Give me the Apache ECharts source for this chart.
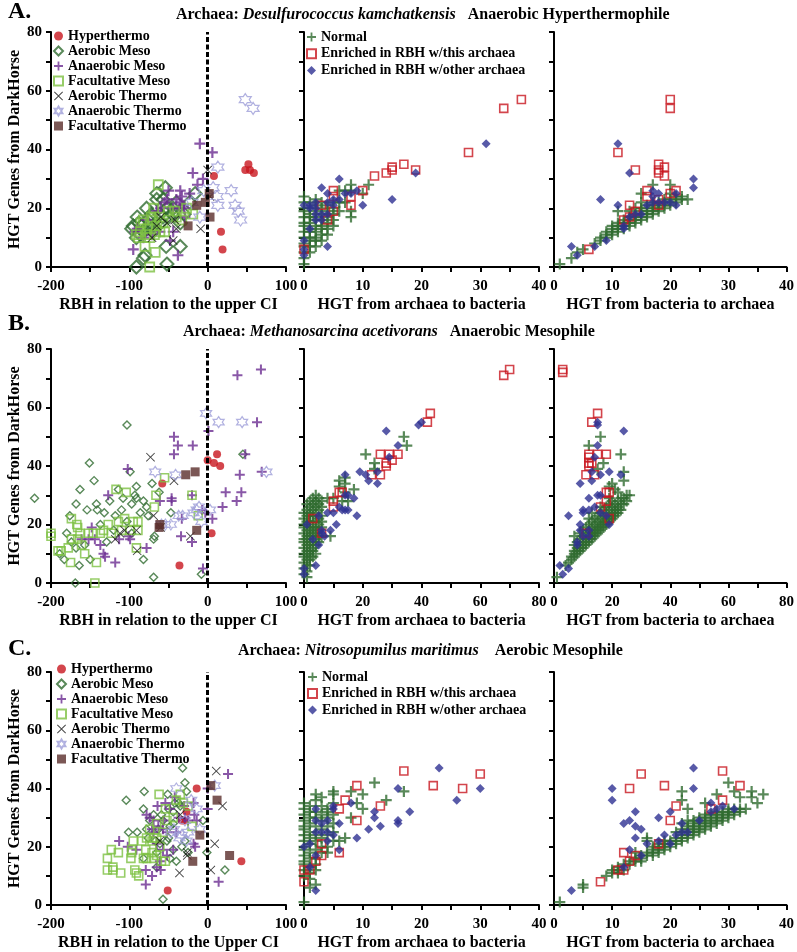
<!DOCTYPE html>
<html><head><meta charset="utf-8">
<script src="https://cdn.jsdelivr.net/npm/echarts@6/dist/echarts.min.js"></script>
<style>html,body{margin:0;padding:0;background:#fff}#c{width:797px;height:952px}</style>
</head><body><div id="c"></div>
<script>
// ---------- Panel A : Desulfurococcus kamchatkensis ----------
const A_hyper = [[8,31],[48,33],[52,35],[54,33],[59,32],[17,12],[19,6]];
const A_aeroMeso = [[-97,13],[-90,17],[-65,25],[-65,23],[-57,23],[-52,20],[-44,20],[-35,15],[-53,7],[-35,7],[-82,3],[-80,4],[-91,0],[-52,1],[-76,16],[-86,11],[-69,14],[-78,20],[-16,25],[-23,22],[-61,18],[-50,17],[-84,14],[-72,18],[-57,17],[-91,10],[-54,27],[-88,15],[-82,12],[-70,12],[-60,15],[-45,18],[-40,22],[-30,18],[-75,14],[-95,14]];
const A_anaeMeso = [[-10,42],[6,39],[-19,32],[-6,30],[-13,28],[-95,6],[-38,4],[-23,25],[-35,26],[-33,24],[-50,26],[-40,23],[-44,20],[-29,17],[-78,16],[-90,13],[-61,12],[-71,11],[-48,9],[-44,12],[-65,19],[-35,22],[-31,21],[-52,23],[-82,10],[-93,12],[-55,22],[-60,20],[-30,20],[-36,20]];
const A_facMeso = [[-63,28],[-67,5],[-74,0],[-19,18],[-61,12],[-80,7],[-86,12],[-82,16],[-72,17],[-69,20],[-50,19],[-42,19],[-78,11],[-74,10],[-65,14],[-57,15],[-91,11],[-33,16],[-40,17],[-27,20],[-85,15],[-77,13],[-70,16],[-62,17],[-55,12],[-88,10],[-68,11]];
const A_aeroTherm = [[0,33],[-9,13],[-40,13],[-44,9],[-71,10],[-52,15],[-42,16],[3,24],[-65,14],[-60,17]];
const A_anaeTherm = [[48,57],[58,54],[13,34],[30,26],[35,21],[39,19],[42,16],[12,24],[13,21],[7,27],[-10,17],[-5,26],[-20,22]];
const A_facTherm = [[2,25],[-3,22],[-14,21],[3,17],[-25,14]];

const A_mid_normal = [[0,1],[0,3],[0,5],[0,7],[0,8],[0,10],[0,12],[0,14],[0,15],[0,17],[0,19],[0,20],[0,22],[0,24],
 [1,5],[1,7],[1,9],[1,10],[1,12],[1,13],[1,15],[1,17],[1,18],[1,20],[1,22],
 [2,7],[2,9],[2,10],[2,12],[2,14],[2,16],[2,17],[2,19],[2,21],[2,23],
 [3,9],[3,11],[3,13],[3,14],[3,16],[3,18],[3,20],[3,22],
 [4,11],[4,13],[4,15],[4,17],[4,19],[4,21],
 [5,14],[5,16],[5,18],[5,20],[5,22],
 [6,19],[6,22],[6,26],[7,22],[7,26],[8,17],[8,19],[8,26],[8,28],[10,25],[11,28]];
const A_mid_this = [[37,57],[34,54],[28,39],[17,35],[15,34],[15,33],[14,32],[12,31],[19,33],[10,26],[5,26],[5,24],[8,24],[8,21],[5,19],[3,21],[4,16],[0,6]];
const A_mid_other = [[31,42],[19,32],[15,23],[6,30],[3,27],[10,21],[9,26],[7,25],[8,25],[6,23],[4,25],[5,21],[4,22],[2,22],[1,21],[0,21],[3,18],[2,16],[1,13],[0,9],[0,6],[0,4],[4,7],[2,18],[4,18],[3,16],[5,23],[1,20],[2,20]];

const A_right_normal = [[1,1],[3,3],[4,5],[5,6],[7,8],[8,9],[8,10],[9,10],[9,11],[9,12],[10,11],[10,12],[10,13],[10,14],
 [11,12],[11,13],[11,14],[11,15],[11,19],[12,13],[12,14],[12,15],[12,16],[13,14],[13,15],[13,16],[13,17],[13,19],
 [14,15],[14,16],[14,17],[14,18],[14,20],[15,16],[15,17],[15,18],[15,19],[15,20],[15,22],[15,25],
 [16,17],[16,18],[16,19],[16,20],[16,21],[17,18],[17,19],[17,20],[17,21],[17,22],[17,28],
 [18,19],[18,20],[18,21],[18,22],[19,20],[19,21],[19,22],[19,23],[20,21],[20,22],[20,23],[20,25],[20,28],
 [21,22],[21,23],[21,24],[22,23],[22,24],[23,23]];
const A_right_this = [[20,57],[20,54],[11,39],[14,33],[18,35],[19,34],[18,33],[18,32],[19,31],[16,26],[16,24],[21,26],[20,25],[13,21],[18,23],[14,19],[12,16],[13,17],[6,6],[18,21]];
const A_right_other = [[11,42],[13,32],[24,30],[24,27],[8,23],[11,21],[16,21],[17,26],[18,25],[21,25],[17,22],[18,22],[19,22],[20,22],[21,21],[15,18],[14,18],[13,17],[12,14],[12,13],[9,9],[7,7],[3,7],[4,4],[17,24]];

// ---------- Panel B : Methanosarcina acetivorans ----------
const B_hyper = [[-58,34],[-36,6],[0,42],[12,44],[8,41],[16,40],[5,17]];
const B_aeroMeso = [[-221,29],[-151,41],[-163,32],[-145,35],[-103,54],[-99,38],[-91,33],[-91,29],[-78,26],[-71,34],[-62,31],[-68,16],[-69,15],[-69,2],[-8,3],[-47,24],[45,44],[-142,27],[-141,25],[-168,27],[-154,25],[-176,23],[-189,10],[-183,8],[-164,6],[-169,0],[-150,8],[-157,13],[-168,12],[-132,24],[-125,28],[-118,23],[-108,29],[-97,27],[-86,24],[-82,28],[-93,30],[-129,14],[-120,18],[-137,20],[-180,17],[-174,14],[-110,25],[-103,21],[-97,17],[-82,8],[-76,23],[-114,32]];
const B_anaeMeso = [[38,71],[68,73],[63,55],[1,52],[-43,50],[-38,47],[-19,47],[-43,44],[48,44],[41,37],[43,31],[37,28],[69,38],[23,31],[19,26],[6,22],[-3,24],[-7,25],[-20,30],[-33,22],[-34,16],[-20,14],[-6,5],[-46,29],[-46,28],[-61,28],[-78,12],[-102,39],[-127,30],[-118,7],[-131,9],[-133,10],[-137,13],[-161,15],[-152,15],[-144,15],[-148,19],[-113,15],[-101,16],[-99,15]];
const B_facMeso = [[-200,17],[-200,16],[-144,0],[-117,32],[-104,31],[-66,30],[-55,36],[-20,30],[-12,23],[-68,26],[-174,22],[-166,19],[-174,15],[-178,12],[-187,11],[-191,11],[-175,7],[-142,7],[-166,15],[-152,17],[-137,17],[-133,18],[-127,20],[-123,17],[-114,21],[-110,18],[-106,22],[-95,21],[-89,18],[-91,12],[-161,13],[-157,10],[-146,17],[-163,17],[-167,20],[-99,18],[-89,21]];
const B_aeroTherm = [[-73,43],[-43,35],[-90,11],[-22,16],[-69,23],[-106,18],[-112,17],[-118,15],[-91,18],[-60,19]];
const B_anaeTherm = [[-2,58],[14,55],[44,55],[75,38],[-67,38],[-41,37],[-54,20],[-59,20],[-11,26],[-14,25],[-8,21],[3,25],[-37,23],[-32,23],[-18,24],[-47,20]];
const B_facTherm = [[-28,37],[-16,38],[-14,18],[-61,20],[-62,19]];

const B_mid_normal = [[34,50],[35,47],[21,44],[24,41],[24,39],[12,35],[14,36],[14,34],[12,33],[14,31],[17,32],[15,28],[13,28],[10,29],[8,29],[9,16],[4,30],
 [0,3],[0,5],[0,7],[0,9],[0,10],[0,12],[0,14],[0,15],[0,17],[0,19],[0,20],[0,22],[0,24],
 [1,2],[1,4],[1,6],[1,8],[1,10],[1,11],[1,13],[1,15],[1,16],[1,18],[1,20],[1,21],[1,23],[1,25],[1,27],
 [2,6],[2,8],[2,9],[2,11],[2,13],[2,14],[2,16],[2,18],[2,19],[2,21],[2,23],[2,24],[2,26],[2,28],
 [3,9],[3,11],[3,12],[3,14],[3,16],[3,17],[3,19],[3,21],[3,23],[3,25],[3,27],[3,29],
 [4,10],[4,13],[4,15],[4,17],[4,19],[4,21],[4,24],[4,26],[4,28],
 [5,14],[5,16],[5,18],[5,20],[5,22],[5,25],[5,27],[5,29],
 [6,16],[6,19],[6,21],[6,23],[6,26],[6,28]];
const B_mid_this = [[68,71],[70,73],[43,58],[42,55],[26,44],[29,44],[32,44],[30,42],[28,41],[28,40],[23,37],[26,37],[12,31],[13,31],[10,28],[10,26],[3,22],[6,17]];
const B_mid_other = [[39,54],[40,55],[28,52],[32,47],[29,43],[19,38],[21,37],[22,35],[25,34],[25,38],[14,37],[10,24],[12,26],[14,25],[15,25],[13,25],[14,30],[15,30],[17,29],[18,23],[11,20],[9,18],[8,24],[6,17],[7,16],[5,13],[5,23],[3,15],[1,20],[0,5],[0,3],[4,6],[6,18]];

const B_right_normal = [[12,47],[16,50],[23,44],[17,41],[24,38],[24,35],[15,39],[20,34],[19,33],[21,32],
 [1,2],[4,6],[5,7],[6,8],[6,9],[7,9],[7,10],[7,11],[7,13],[7,16],[8,10],[8,11],[8,12],[8,14],
 [9,11],[9,12],[9,13],[9,15],[9,17],[10,12],[10,13],[10,14],[10,16],[10,18],[11,13],[11,14],[11,15],[11,17],[11,19],
 [12,14],[12,15],[12,16],[12,18],[12,20],[12,22],[13,15],[13,16],[13,17],[13,19],[13,21],[13,24],
 [14,16],[14,17],[14,18],[14,20],[14,22],[15,17],[15,18],[15,19],[15,21],[15,23],
 [16,18],[16,19],[16,20],[16,22],[16,24],[16,26],[17,19],[17,20],[17,21],[17,23],[17,25],
 [18,20],[18,21],[18,22],[18,24],[18,26],[19,21],[19,22],[19,23],[19,25],[19,27],[19,29],
 [20,22],[20,23],[20,24],[20,26],[20,28],[21,23],[21,24],[21,25],[21,27],[22,24],[22,25],[22,26],[22,28],[22,31],
 [23,25],[23,27],[23,29],[24,27],[24,29],[25,28],[25,30],[26,30]];
const B_right_this = [[3,73],[3,72],[15,58],[13,55],[12,44],[15,44],[18,44],[12,43],[12,41],[13,41],[12,40],[11,37],[14,37],[18,31],[19,31],[18,28],[16,26],[19,22],[11,17]];
const B_right_other = [[15,55],[15,54],[24,52],[15,47],[14,43],[13,38],[19,38],[16,37],[23,37],[9,34],[13,35],[15,30],[16,30],[12,29],[10,25],[10,24],[12,25],[5,23],[14,26],[16,24],[18,23],[19,20],[9,20],[9,18],[10,16],[8,14],[8,13],[12,18],[2,6],[3,3],[5,5],[12,16]];

// ---------- Panel C : Nitrosopumilus maritimus ----------
const C_hyper = [[-14,40],[43,15],[-51,5],[-27,32],[-33,29],[-30,29]];
const C_aeroMeso = [[-32,47],[-29,42],[-51,38],[-27,39],[-81,39],[-104,36],[-101,25],[-90,25],[-82,33],[-57,2],[-1,18],[22,12],[-6,29],[-25,18],[-40,15],[-48,16],[-65,13],[-82,16],[-74,29],[-69,31],[-59,31],[-50,33],[-42,35],[-37,35],[-35,34],[-44,28],[-48,27],[-52,22],[-61,21],[-67,22],[-78,26],[-76,23],[-65,18],[-44,19],[-29,22],[-33,20],[-50,23],[-57,29],[-44,32],[-63,26]];
const C_anaeMeso = [[26,45],[0,40],[0,33],[14,8],[-18,35],[-17,31],[-14,29],[-29,30],[-30,34],[-37,30],[-42,37],[-48,33],[-56,29],[-64,34],[-78,31],[-74,30],[-113,22],[-102,20],[-91,19],[-79,7],[-71,10],[-79,12],[-65,13],[-60,12],[-61,15],[-44,19],[-40,25],[-18,21],[-16,20],[-25,29],[-54,35],[-69,25],[-65,21],[-57,19],[-52,17],[-63,27],[-69,29],[-71,26],[-57,26],[-52,25]];
const C_facMeso = [[-128,16],[-123,19],[-114,18],[-128,12],[-121,13],[-111,11],[-121,12],[-93,12],[-91,11],[-88,10],[-97,19],[-97,18],[-95,22],[-98,16],[-84,22],[-79,19],[-78,16],[-82,16],[-71,18],[-69,16],[-65,17],[-61,20],[-54,15],[-59,15],[-69,23],[-71,22],[-78,23],[-65,23],[-62,38],[-54,33],[-35,38],[-40,36],[-31,35],[-25,34],[-20,27],[-57,25],[-52,29],[-44,30],[-65,28],[-74,26]];
const C_aeroTherm = [[11,46],[19,34],[9,21],[4,12],[-36,11],[-26,18],[-26,17],[-35,31],[-61,22]];
const C_anaeTherm = [[-40,40],[9,41],[-21,36],[-14,33],[-10,26],[-43,26],[-47,25],[-27,22],[-36,23],[-33,24],[-25,25],[-29,29]];
const C_facTherm = [[4,41],[12,36],[28,17],[-19,15],[-10,24]];

const C_mid_normal = [[12,42],[17,39],[14,36],[10,38],[9,35],[8,39],[10,33],[8,30],[7,23],[6,22],[5,38],[5,39],[2,38],[3,37],[4,33],[4,18],[1,6],[2,7],[0,1],[2,12],
 [0,10],[0,12],[0,14],[0,15],[0,17],[0,19],[0,20],[0,22],[0,24],[0,26],[0,27],[0,29],[0,31],[0,33],[0,35],
 [1,9],[1,11],[1,13],[1,16],[1,18],[1,21],[1,23],[1,25],[1,28],[1,30],[1,32],[1,34],
 [2,14],[2,16],[2,19],[2,22],[2,24],[2,27],[2,30],[2,32],[2,36],
 [3,18],[3,20],[3,23],[3,26],[3,29],[3,31],[3,34],
 [4,20],[4,24],[4,27],[4,30],[4,32],[5,22],[5,25],[5,28],[5,31],[5,35]];
const C_mid_this = [[17,46],[30,45],[9,41],[22,41],[27,40],[7,36],[6,33],[13,34],[9,29],[3,21],[3,17],[2,15],[6,18],[1,12],[0,12],[0,8]];
const C_mid_other = [[23,47],[16,40],[30,40],[26,36],[18,32],[16,29],[16,28],[13,27],[11,26],[9,23],[12,30],[12,32],[8,35],[6,28],[6,19],[5,33],[5,34],[5,24],[4,22],[4,29],[4,25],[3,28],[3,25],[2,33],[2,29],[2,25],[1,21],[2,17],[1,13],[0,20],[2,5]];

const C_right_normal = [[30,42],[22,39],[22,36],[26,35],[28,38],[31,39],[32,37],[34,39],[34,37],[35,35],[36,38],[33,33],[5,6],[5,7],[1,1],[9,10],[10,11],[11,12],[16,23],[16,22],[23,33],
 [10,12],[11,11],[11,13],[12,12],[12,14],[13,14],[13,15],[14,15],[14,16],[14,18],[15,15],[15,16],[15,17],
 [16,17],[16,18],[17,17],[17,18],[17,19],[17,20],[18,18],[18,19],[18,20],[18,21],[19,19],[19,20],[19,21],[19,22],
 [20,20],[20,21],[20,22],[21,21],[21,22],[21,23],[21,25],[22,22],[22,23],[22,24],[22,25],[22,26],[22,28],
 [23,23],[23,24],[23,25],[23,26],[23,27],[23,29],[24,24],[24,25],[24,26],[24,27],[24,28],[24,29],
 [25,25],[25,26],[25,27],[25,28],[25,29],[25,30],[26,26],[26,27],[26,28],[26,29],[26,30],[26,31],
 [27,27],[27,28],[27,29],[27,30],[27,31],[28,28],[28,29],[28,30],[28,31],[28,32],[29,29],[29,30],[29,31],[29,32],
 [30,30],[30,31],[30,32],[30,33],[31,31],[31,32],[31,33],[32,32],[32,33]];
const C_right_this = [[29,46],[15,45],[13,40],[19,41],[32,41],[29,36],[21,34],[27,33],[20,29],[12,18],[13,15],[14,17],[11,12],[12,12],[8,8],[18,21]];
const C_right_other = [[24,47],[24,40],[10,40],[10,36],[14,32],[18,30],[20,32],[13,29],[12,28],[14,27],[15,26],[14,23],[16,21],[19,24],[18,22],[20,21],[22,28],[22,25],[23,25],[25,29],[27,35],[27,32],[29,34],[31,33],[28,33],[13,19],[15,17],[12,13],[3,5],[21,24]];

// ---------- texts ----------
const leftNames = ['Hyperthermo','Aerobic Meso','Anaerobic Meso','Facultative Meso','Aerobic Thermo','Anaerobic Thermo','Facultative Thermo'];
const hgtNames = ['Normal','Enriched in RBH w/this archaea','Enriched in RBH w/other archaea'];
const yTitle = 'HGT Genes from DarkHorse';
const xTitlesLeft = ['RBH in relation to the upper CI','RBH in relation to the upper CI','RBH in relation to the Upper CI'];
const xTitleMid = 'HGT from archaea to bacteria';
const xTitleRight = 'HGT from bacteria to archaea';

const FONT = '"Liberation Serif","Times New Roman",serif';
const P_PLUS = 'path://M4,0H6V4H10V6H6V10H4V6H0V4H4Z';
const P_X = 'path://M0.7,0L5,4.3L9.3,0L10,0.7L5.7,5L10,9.3L9.3,10L5,5.7L0.7,10L0,9.3L4.3,5L0,0.7Z';
const P_STAR = 'path://M10,0L12.89,5L18.66,5L15.77,10L18.66,15L12.89,15L10,20L7.11,15L1.34,15L4.23,10L1.34,5L7.11,5Z';
const TR = 'rgba(255,255,255,0)';

function sty(kind, big){
  switch(kind){
    case 0: return {symbol:'circle', size:8, it:{color:'#c8161f'}};
    case 1: return {symbol:'diamond', size: big?13:8, it:{color:TR, borderColor:'#2f6b30', borderWidth: big?2:1.4}};
    case 2: return {symbol:P_PLUS, size: big?11:10, it:{color:'#6c2d91'}};
    case 3: return {symbol:'rect', size: big?9:8, it:{color:TR, borderColor:'#7dc142', borderWidth: big?1.8:1.6}};
    case 4: return {symbol:P_X, size:9, it:{color:'#111'}};
    case 5: return {symbol:P_STAR, size: big?12:11, it:{color:TR, borderColor:'#9e9ed8', borderWidth:1.2}};
    case 6: return {symbol:'rect', size:9, it:{color:'#5a2d2a'}};
    case 7: return {symbol:P_PLUS, size:11, it:{color:'#2f6b30'}};
    case 8: return {symbol:'rect', size:8, it:{color:TR, borderColor:'#c8161f', borderWidth:1.6}};
    case 9: return {symbol:'diamond', size:9, it:{color:'#2e3192'}};
  }
}
const series = [];
function add(name, data, g, kind, big){
  const s = sty(kind, big);
  series.push({type:'scatter', name, data, xAxisIndex:g, yAxisIndex:g, symbol:s.symbol, symbolSize:s.size,
    itemStyle:s.it, clip:false, silent:true, emphasis:{disabled:true}, animation:false});
}
const leftSets = [
  [A_hyper,A_aeroMeso,A_anaeMeso,A_facMeso,A_aeroTherm,A_anaeTherm,A_facTherm],
  [B_hyper,B_aeroMeso,B_anaeMeso,B_facMeso,B_aeroTherm,B_anaeTherm,B_facTherm],
  [C_hyper,C_aeroMeso,C_anaeMeso,C_facMeso,C_aeroTherm,C_anaeTherm,C_facTherm]];
const midSets = [[A_mid_normal,A_mid_this,A_mid_other],[B_mid_normal,B_mid_this,B_mid_other],[C_mid_normal,C_mid_this,C_mid_other]];
const rightSets = [[A_right_normal,A_right_this,A_right_other],[B_right_normal,B_right_this,B_right_other],[C_right_normal,C_right_this,C_right_other]];

for(let r=0;r<3;r++){
  leftSets[r].forEach((d,i)=>add(leftNames[i], d, r*3, i, r===0));
  midSets[r].forEach((d,i)=>add(hgtNames[i], d, r*3+1, 7+i));
  rightSets[r].forEach((d,i)=>add(hgtNames[i], d, r*3+2, 7+i));
  series.push({type:'scatter', data:[], xAxisIndex:r*3, yAxisIndex:r*3, silent:true,
    markLine:{silent:true, symbol:'none', label:{show:false}, animation:false,
      lineStyle:{color:'#000', type:[5,2.5], width:3}, data:[{xAxis:0}]}});
}

const rowTop = [32, 349, 672];
const rowH = [235, 234, 233];
const colLeft = [51, 304, 554];
const grids=[], xAxes=[], yAxes=[];
const lbl = {fontFamily:FONT, fontWeight:'bold', fontSize:15, color:'#000'};
const nameSt = {fontFamily:FONT, fontWeight:'bold', fontSize:16, color:'#000'};
const axLine = {show:true, onZero:false, lineStyle:{color:'#000', width:2}};
const axTick = {show:true, inside:false, length:5, lineStyle:{color:'#000', width:2}};
for(let r=0;r<3;r++){
  for(let c=0;c<3;c++){
    const g = r*3+c;
    grids.push({left:colLeft[c], top:rowTop[r], width:235, height:rowH[r], containLabel:false});
    let xa;
    if(c===0){
      xa = {min:-200,max:100,interval:50, fmt:v=> (v%100===0? v : ''), name:xTitlesLeft[r]};
    } else if(r===1){
      xa = {min:0,max:80,interval:10, fmt:v=> (v%20===0? v : ''), name: c===1?xTitleMid:xTitleRight};
    } else {
      xa = {min:0,max:40,interval:5, fmt:v=> (v%10===0? v : ''), name: c===1?xTitleMid:xTitleRight};
    }
    xAxes.push({type:'value', gridIndex:g, min:xa.min, max:xa.max, interval:xa.interval,
      axisLine:axLine, axisTick:axTick, splitLine:{show:false},
      axisLabel:Object.assign({margin:12, formatter:xa.fmt}, lbl),
      name:xa.name, nameLocation:'middle', nameGap:30, nameTextStyle:nameSt});
    yAxes.push({type:'value', gridIndex:g, min:0, max:80, interval:10,
      axisLine:axLine, axisTick:axTick, splitLine:{show:false},
      axisLabel:Object.assign({show:c===0, margin:9, formatter:v=>(v%20===0? v:'')}, lbl),
      name: c===0? yTitle : '', nameLocation:'middle', nameGap:28, nameRotate:90, nameTextStyle:nameSt});
  }
}

const rich = {b:{fontFamily:FONT, fontWeight:'bold', fontSize:16, color:'#000'},
              i:{fontFamily:FONT, fontWeight:'bold', fontStyle:'italic', fontSize:16, color:'#000'}};
const titles = [
  {text:'{b|Archaea: }{i|Desulfurococcus kamchatkensis}{b|   Anaerobic Hyperthermophile}', left:176, top:7},
  {text:'{b|Archaea: }{i|Methanosarcina acetivorans}{b|   Anaerobic Mesophile}', left:183, top:324},
  {text:'{b|Archaea: }{i|Nitrosopumilus maritimus}{b|    Aerobic Mesophile}', left:238, top:643}
].map(t=>Object.assign({padding:0, textStyle:{rich}}, t));
const letters = [['A.',0],['B.',312],['C.',637]].map(([t,y])=>({text:t, left:8, top:y, padding:0,
  textStyle:{fontFamily:FONT, fontWeight:'bold', fontSize:24, color:'#000'}}));

const legTxt = {fontFamily:FONT, fontWeight:'bold', fontSize:14, color:'#000', lineHeight:14};
const legends = [
  {left:53, top:29, data:leftNames, itemGap:1},
  {left:306, top:30, data:hgtNames, itemGap:2.7},
  {left:56, top:662, data:leftNames, itemGap:1},
  {left:307, top:670, data:hgtNames, itemGap:2.5}
].map(l=>Object.assign({orient:'vertical', itemWidth:9, itemHeight:9, padding:0, selectedMode:false,
   textStyle:legTxt, itemStyle:{}}, l));

const chart = echarts.init(document.getElementById('c'), null, {renderer:'canvas'});
chart.setOption({animation:false, backgroundColor:'#fff', title:titles.concat(letters), legend:legends,
  grid:grids, xAxis:xAxes, yAxis:yAxes, series});
</script></body></html>
